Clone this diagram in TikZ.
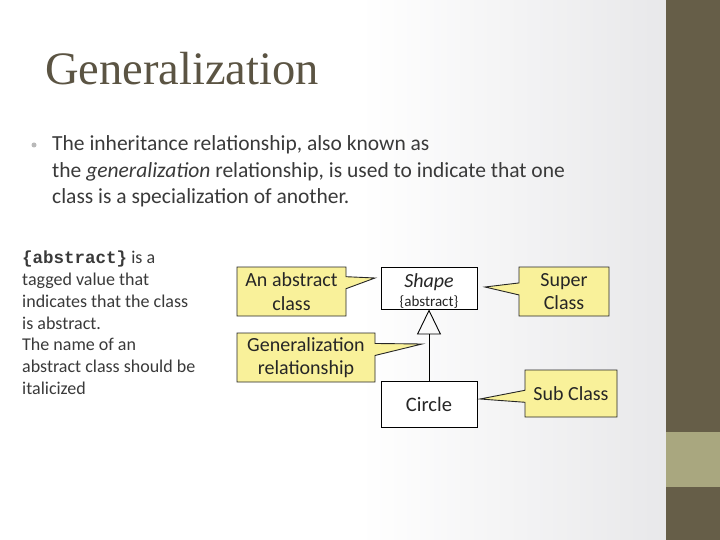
\documentclass[tikz,border=0pt]{standalone}
\usepackage{fontspec}
\setmainfont{Carlito}
\newfontfamily\titlefont{Liberation Serif}
\newfontfamily\monofont{Liberation Mono}
\usetikzlibrary{shapes.callouts,arrows.meta}
\definecolor{barc}{HTML}{665E48}
\definecolor{bandc}{HTML}{A9A77F}
\definecolor{titlec}{HTML}{5B5443}
\definecolor{bodyc}{HTML}{3A3A3A}
\definecolor{callfill}{HTML}{F9F19A}
\definecolor{bgright}{HTML}{E8E8EA}
\begin{document}
\begin{tikzpicture}[x=1pt,y=-1pt,
 classbox/.style={draw=black, line width=0.9pt, fill=white, inner sep=0pt, minimum width=96pt, align=center, text=black!85},
 callbox/.style={rectangle callout, draw=black!85, line width=0.9pt, fill=callfill, inner sep=0pt, align=center, text=black!85, font=\fontsize{20}{23.5}\selectfont, callout pointer width=12pt},
]
\useasboundingbox (0,0) rectangle (720,540);
\fill[white] (0,0) rectangle (720,540);
\shade[left color=white, right color=bgright] (360,0) rectangle (666,540);
\fill[barc] (666,0) rectangle (720,540);
\fill[bandc] (666,432) rectangle (720,487);

\node[anchor=base west, inner sep=0pt, text=titlec, font=\titlefont\fontsize{46.5}{50}\selectfont] (title) at (45,85) {Generalization};

\node[circle, fill=gray!55, inner sep=0pt, minimum size=5pt] (bullet) at (34,145) {};
\node[anchor=base west, inner sep=0pt, text=bodyc, align=left, font=\fontsize{21.5}{26.5}\selectfont] (body) at (52,204)
 {The inheritance relationship, also known as\\
  the \textit{generalization} relationship, is used to indicate that one\\
  class is a specialization of another.};

\node[anchor=base west, inner sep=0pt, text=bodyc, align=left, font=\fontsize{18}{21.8}\selectfont] (note) at (22,394.5)
 {{\monofont\bfseries\fontsize{17.5}{21.8}\selectfont\{abstract\}} is a\\
  tagged value that\\
  indicates that the class\\
  is abstract.\\
  The name of an\\
  abstract class should be\\
  italicized};

\node[classbox, minimum height=42pt] (shape) at (429,288)
 {{\fontsize{20}{20}\selectfont\rule{0pt}{20pt}\textit{Shape}}\\[3pt]{\fontsize{15}{20}\selectfont\{abstract\}}};
\node[classbox, minimum height=46pt, font=\fontsize{20.5}{22}\selectfont] (circ) at (429,404) {Circle};
\draw[line width=0.9pt, -{Triangle[open, width=24pt, length=25pt]}] (circ.north) -- (shape.south);

\coordinate (tipA) at (375,278);
\coordinate (tipS) at (485,287);
\coordinate (tipG) at (422,344);
\coordinate (tipB) at (480,399);
\node[callbox, minimum width=109pt, minimum height=49pt, callout absolute pointer={(tipA)}] (abs) at (291.5,291.5) {An abstract\\class};
\node[callbox, minimum width=90pt, minimum height=49pt, callout absolute pointer={(tipS)}] (sup) at (564,291.5) {Super\\Class};
\node[callbox, minimum width=138pt, minimum height=49pt, callout absolute pointer={(tipG)}] (gen) at (306,357.5) {Generalization\\relationship};
\node[callbox, minimum width=92pt, minimum height=47pt, callout absolute pointer={(tipB)}] (sub) at (571,393.5) {Sub Class};
\end{tikzpicture}
\end{document}
